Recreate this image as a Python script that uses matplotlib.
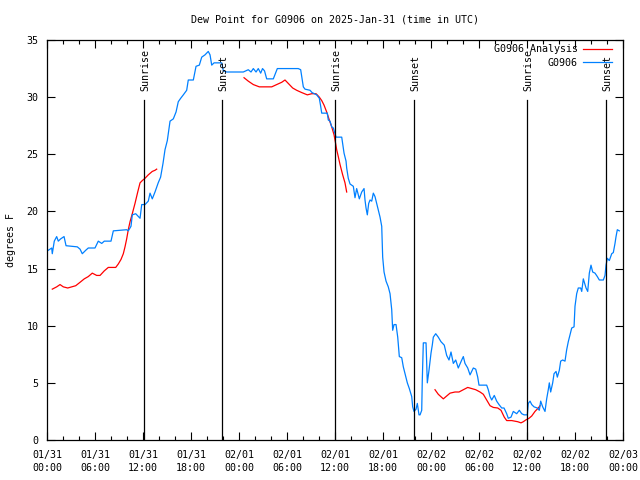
import numpy as np
import matplotlib
matplotlib.use('Agg')
import matplotlib.pyplot as plt
from matplotlib.ticker import MultipleLocator

# hours since 2025-01-31 00:00 UTC, dew point in degrees F
obs_hours = [0.16, 0.59, 0.66, 0.91, 1.21, 1.41, 1.71, 2.13, 2.38, 3.79, 4.13, 4.41, 4.84, 5.16,
             6.0, 6.41, 6.84, 7.16, 8.0, 8.29, 9.96, 10.16, 10.5, 10.66, 11.09, 11.63, 11.84,
             12.25, 12.66, 12.88, 13.16, 13.5, 13.9, 14.2, 14.5, 14.75, 15.04, 15.38, 15.79,
             16.13, 16.41, 16.71, 17.04, 17.46, 17.66, 18.29, 18.63, 19.04, 19.34, 19.75, 20.16,
             20.38, 20.59, 20.88, 21.84, 22.04, 22.46, 24.54, 25.16, 25.5, 25.79, 26.13, 26.41,
             26.71, 26.94, 27.19, 27.46, 28.29, 28.79, 31.41, 31.71, 32.04, 32.25, 32.88, 33.13,
             33.71, 34.04, 34.21, 34.34, 35.04, 35.16, 35.38, 35.59, 35.79, 35.91, 36.13, 36.84,
             36.96, 37.13, 37.38, 37.46, 37.66, 37.88, 38.29, 38.5, 38.71, 39.04, 39.34, 39.63,
             39.75, 39.88, 40.04, 40.21, 40.38, 40.59, 40.79, 41.0, 41.21, 41.41, 41.63, 41.84,
             41.96, 42.13, 42.38, 42.66, 42.88, 43.09, 43.21, 43.38, 43.63, 43.84, 44.04, 44.34,
             44.54, 44.75, 45.04, 45.29, 45.59, 45.71, 45.88, 46.13, 46.29, 46.5, 46.63, 46.84,
             46.91, 47.04, 47.38, 47.54, 47.75, 48.0, 48.16, 48.29, 48.59, 48.91, 49.25, 49.66,
             49.96, 50.25, 50.5, 50.79, 51.09, 51.41, 51.84, 52.04, 52.25, 52.59, 52.88, 53.29,
             53.59, 53.84, 54.0, 54.96, 55.16, 55.38, 55.59, 55.91, 56.21, 56.5, 56.84, 57.13,
             57.46, 57.66, 58.0, 58.29, 58.71, 59.04, 59.34, 59.63, 60.04, 60.16, 60.38, 60.59,
             60.88, 61.29, 61.54, 61.71, 61.96, 62.25, 62.46, 62.66, 62.79, 62.96, 63.21, 63.38,
             63.63, 63.79, 64.04, 64.21, 64.46, 64.75, 64.96, 65.16, 65.38, 65.59, 65.88, 66.0,
             66.21, 66.41, 66.71, 66.84, 67.04, 67.25, 67.38, 67.59, 67.79, 68.0, 68.21, 68.5,
             68.79, 69.04, 69.54, 69.75, 69.88, 70.04, 70.29, 70.59, 70.79, 71.0, 71.13, 71.29,
             71.54]
obs_dewpt = [16.6, 16.8, 16.3, 17.4, 17.8, 17.4, 17.6, 17.8, 17.0, 16.9, 16.7, 16.3, 16.6, 16.8,
             16.8, 17.4, 17.2, 17.4, 17.4, 18.3, 18.4, 18.3, 18.7, 19.7, 19.8, 19.4, 20.6,
             20.6, 20.9, 21.6, 21.1, 21.7, 22.5, 23.0, 24.2, 25.4, 26.2, 27.9, 28.1,
             28.7, 29.6, 29.9, 30.2, 30.6, 31.5, 31.5, 32.7, 32.8, 33.5, 33.7, 34.0,
             33.7, 32.8, 33.0, 33.0, 32.3, 32.2, 32.2, 32.4, 32.2, 32.5, 32.2, 32.5,
             32.1, 32.5, 32.3, 31.6, 31.6, 32.5, 32.5, 32.4, 30.9, 30.7, 30.6, 30.4,
             30.2, 29.9, 29.2, 28.6, 28.6, 28.0, 27.9, 27.4, 27.3, 27.0, 26.5, 26.5,
             25.9, 25.1, 24.4, 23.8, 22.9, 22.4, 22.2, 21.2, 22.0, 21.1, 21.7, 22.0,
             21.0, 20.3, 19.7, 20.7, 21.0, 20.9, 21.6, 21.3, 20.7, 20.1, 19.5, 18.7,
             16.0, 14.7, 13.9, 13.4, 12.8, 11.4, 9.6, 10.1, 10.1, 9.0, 7.3, 7.2,
             6.4, 5.8, 5.0, 4.5, 3.8, 2.9, 2.5, 2.7, 3.2, 2.2, 2.2, 2.6,
             5.2, 8.5, 8.5, 5.0, 6.1, 7.6, 8.3, 9.0, 9.3, 9.0, 8.6, 8.3,
             7.4, 7.0, 7.7, 6.7, 7.0, 6.3, 7.0, 7.3, 6.7, 6.3, 5.7, 6.3,
             6.2, 5.5, 4.8, 4.8, 4.4, 3.8, 3.5, 3.9, 3.4, 3.1, 2.8, 2.8,
             2.3, 1.9, 2.0, 2.5, 2.3, 2.6, 2.3, 2.2, 2.2, 3.2, 3.4, 3.1,
             2.9, 2.8, 2.6, 3.4, 2.9, 2.5, 3.6, 4.4, 5.0, 4.2, 5.0, 5.8,
             6.0, 5.5, 6.1, 6.9, 7.0, 6.9, 7.9, 8.6, 9.2, 9.8, 9.9, 11.7,
             12.8, 13.3, 13.3, 13.0, 14.1, 13.6, 13.3, 13.0, 14.6, 15.3, 14.7, 14.6,
             14.3, 14.0, 14.0, 14.4, 15.3, 15.9, 15.7, 16.3, 16.4, 17.2, 17.8, 18.4,
             18.3]

# analysis comes in three separate runs
ana1_hours = [0.66, 1.21, 1.63, 2.04, 2.59, 3.09, 3.59, 4.13, 4.66, 5.16, 5.66, 6.21, 6.63, 7.16,
              7.66, 8.09, 8.59, 8.91, 9.25, 9.54, 9.75, 9.96, 10.16, 10.38, 10.66, 11.0, 11.34,
              11.63, 11.91, 12.25, 12.66, 13.16, 13.5, 13.71]
ana1_dewpt = [13.2, 13.4, 13.6, 13.4, 13.3, 13.4, 13.5, 13.8, 14.1, 14.3, 14.6, 14.4, 14.4, 14.8,
              15.1, 15.1, 15.1, 15.4, 15.8, 16.3, 16.9, 17.6, 18.4, 19.1, 19.8, 20.7, 21.7,
              22.5, 22.7, 22.9, 23.2, 23.5, 23.6, 23.7]
ana2_hours = [24.63, 25.16, 25.79, 26.54, 27.46, 28.09, 28.71, 29.34, 29.75, 30.16, 30.71, 31.21,
              31.84, 32.54, 33.09, 33.63, 34.04, 34.34, 34.63, 34.96, 35.29, 35.59, 35.88, 36.04,
              36.21, 36.41, 36.63, 36.96, 37.25, 37.46]
ana2_dewpt = [31.7, 31.4, 31.1, 30.9, 30.9, 30.9, 31.1, 31.3, 31.5, 31.2, 30.8, 30.6,
              30.4, 30.2, 30.3, 30.3, 30.0, 29.7, 29.3, 28.7, 28.0, 27.4, 26.7, 26.1,
              25.4, 24.8, 24.1, 23.2, 22.5, 21.7]
ana3_hours = [48.5, 48.91, 49.54, 49.96, 50.38, 51.0, 51.5, 52.04, 52.59, 53.09, 53.59, 54.13,
              54.54, 54.96, 55.38, 55.79, 56.34, 56.75, 57.16, 57.46, 58.09, 58.84, 59.25, 59.54,
              59.84, 60.25, 60.59, 61.0, 61.41, 61.63]
ana3_dewpt = [4.4, 4.0, 3.6, 3.85, 4.1, 4.2, 4.2, 4.4, 4.6, 4.5, 4.4, 4.2,
              4.0, 3.5, 3.0, 2.85, 2.8, 2.6, 2.0, 1.7, 1.7, 1.6, 1.5, 1.6,
              1.75, 1.9, 2.1, 2.5, 2.8, 3.0]

sun_hours = [12.15, 21.9, 36.06, 45.91, 60.06, 69.9]
sun_labels = ['Sunrise', 'Sunset', 'Sunrise', 'Sunset', 'Sunrise', 'Sunset']

xtick_hours = list(range(0, 73, 6))
xtick_labels = ['01/31\n00:00', '01/31\n06:00', '01/31\n12:00', '01/31\n18:00',
                '02/01\n00:00', '02/01\n06:00', '02/01\n12:00', '02/01\n18:00',
                '02/02\n00:00', '02/02\n06:00', '02/02\n12:00', '02/02\n18:00',
                '02/03\n00:00']

plt.rcParams['font.family'] = ['DejaVu Sans Mono']
plt.rcParams['font.size'] = 7.2

fig = plt.figure(figsize=(6.4, 4.8), dpi=100)
ax = fig.add_axes([47 / 640, 40 / 480, 576 / 640, 400 / 480])

ana_h = ana1_hours + [np.nan] + ana2_hours + [np.nan] + ana3_hours
ana_v = ana1_dewpt + [np.nan] + ana2_dewpt + [np.nan] + ana3_dewpt
ax.plot(ana_h, ana_v, color='#ff0000', lw=0.9, label='G0906 Analysis')
ax.plot(obs_hours, obs_dewpt, color='#0080ff', lw=0.9, label='G0906')

ymax = 35
for t, lab in zip(sun_hours, sun_labels):
    ax.plot([t, t], [0, 0.85 * ymax], color='black', lw=0.9)
    ax.text(t + 0.15, 0.872 * ymax, lab, rotation=90, ha='center', va='bottom')

ax.set_xlim(0, 72)
ax.set_ylim(0, ymax)
ax.set_xticks(xtick_hours)
ax.set_xticklabels(xtick_labels, linespacing=1.35)
ax.xaxis.set_minor_locator(MultipleLocator(2))
ax.yaxis.set_major_locator(MultipleLocator(5))
ax.tick_params(which='both', direction='in', top=True, right=True, width=0.8)
ax.tick_params(which='major', length=6)
ax.tick_params(which='minor', length=3)
ax.tick_params(axis='x', pad=7)
ax.tick_params(axis='y', pad=6)
for s in ax.spines.values():
    s.set_linewidth(0.9)

ax.set_ylabel('degrees F', labelpad=8)
fig.text(335 / 640, 1 - 19 / 480, 'Dew Point for G0906 on 2025-Jan-31 (time in UTC)',
         ha='center', va='center')

ax.legend(loc='upper right', bbox_to_anchor=(612 / 640, 1 - 44 / 480),
          bbox_transform=fig.transFigure, frameon=False, markerfirst=False,
          handlelength=2.9, handletextpad=0.5, labelspacing=0.35, borderpad=0,
          borderaxespad=0)

fig.savefig('out.png', dpi=100)
